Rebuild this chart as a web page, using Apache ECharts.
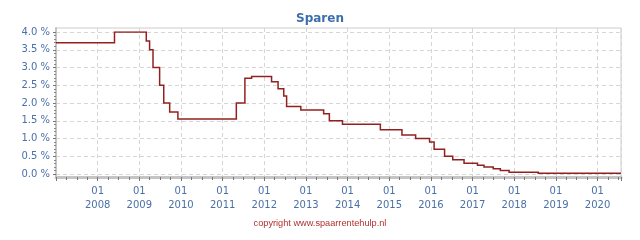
<!DOCTYPE html>
<html>
<head>
<meta charset="utf-8">
<script src="https://cdn.jsdelivr.net/npm/echarts@6/dist/echarts.min.js"></script>
<style>html,body{margin:0;padding:0;background:#fff}#c{width:640px;height:240px}</style>
</head>
<body>
<div id="c"></div>
<script>
// Change dates (rate valid from this date onward)
const dates = ['2007-01-01','2008-05-28','2009-03-03','2009-04-01','2009-05-01','2009-06-28','2009-08-03','2009-09-24','2009-12-05',
  '2011-05-01','2011-07-15','2011-09-12','2012-03-05','2012-05-01','2012-06-20','2012-07-15','2012-11-17','2013-06-05','2013-07-25',
  '2013-11-17','2014-10-15','2015-04-22','2015-08-20','2015-12-20','2016-01-29','2016-04-30','2016-07-11','2016-10-18',
  '2017-02-13','2017-04-11','2017-07-01','2017-09-01','2017-11-17','2018-07-30','2020-07-25'];
// Interest rate (%)
const rates = [3.7,4.0,3.75,3.5,3.0,2.5,2.0,1.75,1.55,
  2.0,2.7,2.75,2.6,2.4,2.2,1.9,1.8,1.7,1.5,
  1.4,1.25,1.1,1.0,0.9,0.7,0.5,0.4,0.3,
  0.25,0.2,0.15,0.1,0.05,0.02,0.02];
const yTicks = [0,0.5,1,1.5,2,2.5,3,3.5,4];
const xStart = '2007-01-01', xEnd = '2020-07-25';

function decYear(s){
  const p = s.split('-').map(Number);
  const t = Date.UTC(p[0],p[1]-1,p[2]);
  const a = Date.UTC(p[0],0,1), b = Date.UTC(p[0]+1,0,1);
  return p[0] + (t-a)/(b-a);
}
// step function: each rate holds until the next change date
const stepCoords = [];
dates.forEach((d,i)=>{
  stepCoords.push([decYear(d), rates[i]]);
  if (i < dates.length-1) stepCoords.push([decYear(dates[i+1]), rates[i]]);
});
const xmin = decYear(xStart), xmax = decYear(xEnd);

const labelColor = '#4a70a8';
const font = 'DejaVu Sans';
const chart = echarts.init(document.getElementById('c'), null, {renderer:'canvas'});
chart.setOption({
  animation:false,
  backgroundColor:'#fff',
  title:{text:'Sparen', left:'center', top:8, textStyle:{fontFamily:font, fontSize:12, fontWeight:'bold', color:'#3c6ead'}},
  graphic:[{type:'text', left:'center', top:219, style:{text:'copyright www.spaarrentehulp.nl', fontFamily:'Liberation Sans', fontSize:9.2, fill:'#b03030'}}],
  grid:[
    {left:56, right:19, top:28, bottom:63, show:true, borderColor:'#cccccc', borderWidth:1, backgroundColor:'#fff'},
    {left:56, right:19, top:32, bottom:66}
  ],
  xAxis:[
    {type:'value', gridIndex:0, min:xmin, max:xmax, interval:1,
      axisLine:{show:true, onZero:false, lineStyle:{color:'#c4c4c4', width:3}},
      axisTick:{show:true, length:4, lineStyle:{color:'#777'}},
      minorTick:{show:true, splitNumber:4, length:3, lineStyle:{color:'#777'}},
      splitLine:{show:true, lineStyle:{color:'#d6d6d6', type:[4,3]}},
      axisLabel:{showMinLabel:false, showMaxLabel:false, margin:7, lineHeight:14, color:labelColor, fontFamily:font, fontSize:10,
        formatter:v=> Math.abs(v-Math.round(v))<1e-6 ? '01\n'+Math.round(v) : ''}},
    {type:'value', gridIndex:1, min:xmin, max:xmax, show:false}
  ],
  yAxis:[
    {type:'value', gridIndex:0, min:0, max:1, axisLine:{show:true, lineStyle:{color:'#c4c4c4', width:2}},
      axisTick:{show:false}, axisLabel:{show:false}, splitLine:{show:false}},
    {type:'value', gridIndex:1, min:yTicks[0], max:yTicks[yTicks.length-1], interval:0.5,
      axisLine:{show:false},
      axisTick:{show:true, length:3, lineStyle:{color:'#777'}},
      minorTick:{show:true, splitNumber:5, length:2, lineStyle:{color:'#888'}},
      splitLine:{show:true, lineStyle:{color:'#d6d6d6', type:[4,3]}},
      axisLabel:{margin:6, color:labelColor, fontFamily:font, fontSize:10, formatter:v=>v.toFixed(1)+' %'}}
  ],
  series:[{type:'lines', coordinateSystem:'cartesian2d', xAxisIndex:1, yAxisIndex:1, polyline:true,
    data:[{coords:stepCoords}], silent:true,
    lineStyle:{color:'#922020', width:1.5, opacity:1}}]
});
</script>
</body>
</html>
